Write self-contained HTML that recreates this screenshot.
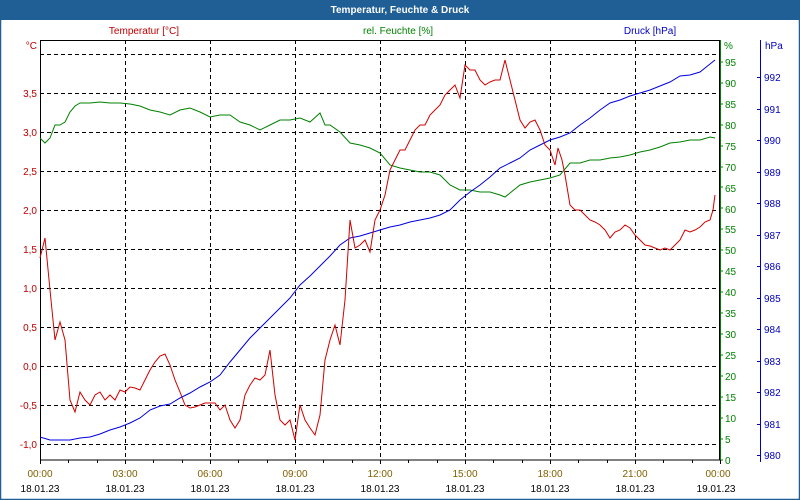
<!DOCTYPE html>
<html><head><meta charset="utf-8"><style>
html,body{margin:0;padding:0;background:#fff}
svg{display:block;font-family:"Liberation Sans",sans-serif;font-size:10px}
</style></head><body>
<svg width="800" height="500" viewBox="0 0 800 500" xmlns="http://www.w3.org/2000/svg">
<rect x="0" y="0" width="800" height="500" fill="#fff"/>
<rect x="0.5" y="0.5" width="799" height="499" fill="none" stroke="#1f5f96" stroke-width="1.5"/>
<rect x="0" y="0" width="800" height="20" fill="#1f5f96"/>
<text x="400" y="13" text-anchor="middle" fill="#fff" font-weight="bold" font-size="10">Temperatur, Feuchte &amp; Druck</text>
<text x="144" y="34" text-anchor="middle" fill="#c00000">Temperatur [°C]</text>
<text x="398" y="34" text-anchor="middle" fill="#008000">rel. Feuchte [%]</text>
<text x="650" y="34" text-anchor="middle" fill="#0000c0">Druck [hPa]</text>
<text x="37" y="49" text-anchor="end" fill="#c00000">°C</text>
<text x="724" y="49" fill="#008000">%</text>
<text x="765" y="49" fill="#0000c0">hPa</text>
<g stroke="#000" stroke-dasharray="4,3" stroke-width="1">
<line x1="40" x2="720" y1="54.5" y2="54.5"/><line x1="40" x2="720" y1="93.5" y2="93.5"/><line x1="40" x2="720" y1="132.5" y2="132.5"/><line x1="40" x2="720" y1="171.5" y2="171.5"/><line x1="40" x2="720" y1="210.5" y2="210.5"/><line x1="40" x2="720" y1="249.5" y2="249.5"/><line x1="40" x2="720" y1="288.5" y2="288.5"/><line x1="40" x2="720" y1="327.5" y2="327.5"/><line x1="40" x2="720" y1="366.5" y2="366.5"/><line x1="40" x2="720" y1="405.5" y2="405.5"/><line x1="40" x2="720" y1="444.5" y2="444.5"/>
<line x1="125.5" x2="125.5" y1="40" y2="460"/><line x1="210.5" x2="210.5" y1="40" y2="460"/><line x1="295.5" x2="295.5" y1="40" y2="460"/><line x1="380.5" x2="380.5" y1="40" y2="460"/><line x1="465.5" x2="465.5" y1="40" y2="460"/><line x1="550.5" x2="550.5" y1="40" y2="460"/><line x1="635.5" x2="635.5" y1="40" y2="460"/>
</g>
<rect x="40.5" y="40.5" width="679" height="419.5" fill="none" stroke="#000"/>
<line x1="720.5" x2="720.5" y1="40" y2="461" stroke="#008000"/>
<line x1="760.5" x2="760.5" y1="40" y2="462" stroke="#0000c0"/>
<g fill="#c00000" text-anchor="end">
<text x="37" y="97">3,5</text><text x="37" y="136">3,0</text><text x="37" y="175">2,5</text><text x="37" y="214">2,0</text><text x="37" y="253">1,5</text><text x="37" y="292">1,0</text><text x="37" y="331">0,5</text><text x="37" y="370">0,0</text><text x="37" y="409">-0,5</text><text x="37" y="448">-1,0</text>
</g>
<g fill="#008000" stroke="none">
<text x="725" y="66">95</text><text x="725" y="87">90</text><text x="725" y="108">85</text><text x="725" y="129">80</text><text x="725" y="150">75</text><text x="725" y="171">70</text><text x="725" y="192">65</text><text x="725" y="213">60</text><text x="725" y="233">55</text><text x="725" y="254">50</text><text x="725" y="275">45</text><text x="725" y="296">40</text><text x="725" y="317">35</text><text x="725" y="338">30</text><text x="725" y="359">25</text><text x="725" y="380">20</text><text x="725" y="401">15</text><text x="725" y="422">10</text><text x="725" y="443">5</text><text x="725" y="464">0</text>
</g>
<g stroke="#008000">
<path d="M720 62h3M720 83h3M720 104h3M720 125h3M720 146h3M720 167h3M720 187h3M720 208h3M720 229h3M720 250h3M720 271h3M720 292h3M720 313h3M720 334h3M720 355h3M720 376h3M720 397h3M720 418h3M720 439h3M720 460h3"/>
</g>
<g fill="#0000c0">
<text x="764" y="81">992</text><text x="764" y="113">991</text><text x="764" y="144">990</text><text x="764" y="176">989</text><text x="764" y="207">988</text><text x="764" y="239">987</text><text x="764" y="270">986</text><text x="764" y="302">985</text><text x="764" y="333">984</text><text x="764" y="365">983</text><text x="764" y="396">982</text><text x="764" y="428">981</text><text x="764" y="459">980</text>
</g>
<path stroke="#0000c0" d="M757 77.5h3M757 109.5h3M757 140.5h3M757 172.5h3M757 203.5h3M757 235.5h3M757 266.5h3M757 298.5h3M757 329.5h3M757 361.5h3M757 392.5h3M757 424.5h3M757 455.5h3"/>
<path stroke="#000" d="M40.5 460v4M68.5 460v3M97.5 460v3M125.5 460v4M153.5 460v3M182.5 460v3M210.5 460v4M238.5 460v3M267.5 460v3M295.5 460v4M323.5 460v3M352.5 460v3M380.5 460v4M408.5 460v3M437.5 460v3M465.5 460v4M493.5 460v3M522.5 460v3M550.5 460v4M578.5 460v3M607.5 460v3M635.5 460v4M663.5 460v3M692.5 460v3M720.5 460v4"/>
<g text-anchor="middle">
<g fill="#806000">
<text x="40" y="477">00:00</text><text x="125" y="477">03:00</text><text x="210" y="477">06:00</text><text x="295" y="477">09:00</text><text x="380" y="477">12:00</text><text x="465" y="477">15:00</text><text x="550" y="477">18:00</text><text x="635" y="477">21:00</text><text x="718" y="477">00:00</text>
</g>
<g fill="#000">
<text x="40" y="492">18.01.23</text><text x="125" y="492">18.01.23</text><text x="210" y="492">18.01.23</text><text x="295" y="492">18.01.23</text><text x="380" y="492">18.01.23</text><text x="465" y="492">18.01.23</text><text x="550" y="492">18.01.23</text><text x="635" y="492">18.01.23</text><text x="716" y="492">19.01.23</text>
</g>
</g>
<polyline fill="none" stroke="#008000" points="40,138 45,143 50,138 55,125 60,125 65,122 70,112 75,106 80,103 90,103 100,102 110,103 120,103 130,104 140,106 150,110 160,112 170,115 180,110 190,108 200,112 210,117 220,115 230,115 240,122 250,125 260,130 270,125 280,120 290,120 300,118 310,122 320,113 325,125 330,125 340,132 350,143 360,145 370,148 380,153 390,165 400,168 410,170 420,172 430,172 440,175 450,185 460,190 470,190 480,192 490,192 500,195 505,197 510,193 520,185 530,182 540,180 550,178 560,175 570,163 580,163 590,160 600,160 610,158 620,157 630,155 640,152 650,150 660,147 670,143 680,142 690,140 700,140 710,137 715,138"/>
<polyline fill="none" stroke="#0000e0" points="40,437 50,440 60,440 70,440 80,438 90,437 100,434 110,430 120,427 130,423 140,418 150,410 160,406 170,404 180,398 190,393 200,387 210,382 220,375 230,362 240,350 250,338 260,328 270,318 280,308 290,298 300,285 310,276 320,266 330,256 340,245 350,238 360,236 370,233 380,230 390,227 400,225 410,222 420,220 430,218 440,215 450,210 460,200 470,192 480,185 490,177 500,168 510,163 520,158 530,150 540,145 550,140 560,137 570,133 580,125 590,118 600,110 610,103 620,100 630,96 640,93 650,90 660,86 670,82 680,76 690,75 700,72 705,68 715,60"/>
<polyline fill="none" stroke="#d00000" points="40,258 45,238 50,290 55,340 60,322 65,340 70,400 75,412 80,392 85,400 90,405 95,395 100,392 105,400 110,395 115,400 120,390 125,392 130,387 135,388 140,390 145,380 150,370 155,362 160,356 165,354 170,365 175,380 180,392 185,405 190,408 195,407 200,405 205,403 210,403 215,403 220,410 225,405 230,420 235,428 240,420 245,395 250,385 255,378 260,380 265,375 270,350 275,395 280,420 285,425 290,420 295,440 300,405 305,420 310,428 315,435 320,415 325,360 330,340 335,325 340,345 345,300 350,220 355,248 360,245 365,240 370,252 375,220 380,210 385,195 390,170 395,160 400,150 405,150 410,140 415,130 420,125 425,125 430,115 435,110 440,105 445,95 450,90 455,85 460,98 465,65 470,70 475,70 480,80 485,85 490,82 495,80 500,80 505,60 510,80 515,100 520,120 525,128 530,122 535,120 540,130 545,145 550,150 555,165 558,148 562,160 565,175 570,205 575,210 580,210 585,215 590,220 595,222 600,225 605,230 610,238 615,232 620,230 625,225 630,228 635,235 640,240 645,245 650,246 655,248 660,250 665,248 670,250 675,245 680,240 685,230 690,232 695,230 700,227 705,222 710,220 713,210 715,195"/>
</svg>
</body></html>
